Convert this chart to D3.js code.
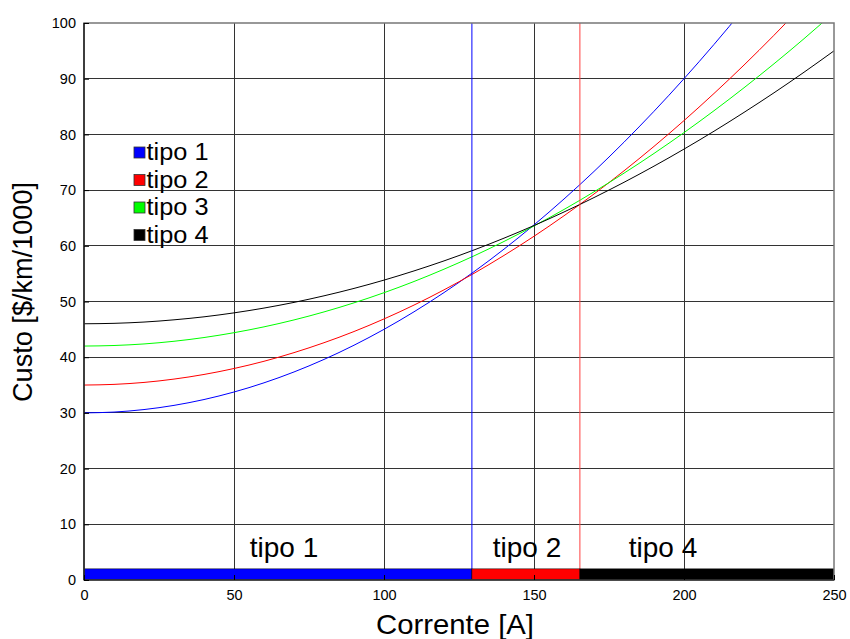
<!DOCTYPE html>
<html><head><meta charset="utf-8">
<script src="https://cdn.jsdelivr.net/npm/d3@7"></script>
<style>body{margin:0;background:#fff;font-family:"Liberation Sans",Arial,sans-serif}</style>
</head><body><svg id="c" width="850" height="639"></svg>
<script>
const xs = [0,10,20,30,40,50,60,70,80,90,100,110,120,130,140,150,160,170,180,190,200,210,220,230,240,250];
const tipo1 = [30,30.15,30.6,31.35,32.4,33.75,35.4,37.35,39.6,42.15,45,48.15,51.6,55.35,59.4,63.75,68.4,73.35,78.6,84.15,90,96.15,102.6,109.4,116.4,123.8];
const tipo2 = [35,35.12,35.47,36.07,36.9,37.97,39.27,40.82,42.6,44.61,46.87,49.36,52.09,55.06,58.27,61.71,65.39,69.3,73.46,77.85,82.48,87.35,92.45,97.8,103.4,109.2];
const tipo3 = [42,42.1,42.38,42.86,43.53,44.4,45.45,46.69,48.13,49.76,51.58,53.59,55.8,58.19,60.78,63.56,66.52,69.69,73.04,76.58,80.32,84.25,88.37,92.68,97.18,101.9];
const tipo4 = [46,46.08,46.31,46.71,47.25,47.96,48.82,49.84,51.02,52.35,53.84,55.49,57.29,59.25,61.37,63.64,66.07,68.66,71.4,74.3,77.36,80.57,83.95,87.47,91.16,95];
const seriesNames = ["tipo 1","tipo 2","tipo 3","tipo 4"];
const seriesColors = ["#0000ff","#ff0000","#00ff00","#000000"];
const limits = [129.3, 165.3];
const bands = [{label:"tipo 1",x0:0,x1:129.3,color:"#0000ff"},{label:"tipo 2",x0:129.3,x1:165.3,color:"#ff0000"},{label:"tipo 4",x0:165.3,x1:250,color:"#000000"}];
const bandHeight = 2;
const xTicks = [0,50,100,150,200,250];
const yTicks = [0,10,20,30,40,50,60,70,80,90,100];

const svg = d3.select("#c");
const L=84, R=834, T=23, B=580;
const x = d3.scaleLinear().domain([0,250]).range([L,R]);
const y = d3.scaleLinear().domain([0,100]).range([B,T]);

svg.append("defs").append("clipPath").attr("id","clip").append("rect")
  .attr("x",L).attr("y",T).attr("width",R-L).attr("height",B-T);

// grid
const g = svg.append("g");
g.selectAll(".gx").data(xTicks.slice(1,-1)).enter().append("line")
  .attr("x1",d=>x(d)).attr("x2",d=>x(d)).attr("y1",T).attr("y2",B)
  .attr("stroke","#333").attr("stroke-width",1).attr("shape-rendering","crispEdges");
g.selectAll(".gy").data(yTicks.slice(1,-1)).enter().append("line")
  .attr("x1",L).attr("x2",R).attr("y1",d=>y(d)).attr("y2",d=>y(d))
  .attr("stroke","#333").attr("stroke-width",1).attr("shape-rendering","crispEdges");

const plot = svg.append("g").attr("clip-path","url(#clip)");
const line = d3.line().x(d=>x(d[0])).y(d=>y(d[1])).curve(d3.curveMonotoneX);
[tipo1,tipo2,tipo3,tipo4].forEach((s,i)=>{
  plot.append("path").datum(xs.map((v,j)=>[v,s[j]])).attr("d",line)
    .attr("fill","none").attr("stroke",seriesColors[i]).attr("stroke-width",1);
});

// vertical limit lines
plot.append("line").attr("x1",x(limits[0])).attr("x2",x(limits[0])).attr("y1",T).attr("y2",B)
  .attr("stroke","#0000ff").attr("stroke-width",1);
plot.append("line").attr("x1",x(limits[1])).attr("x2",x(limits[1])).attr("y1",T).attr("y2",B)
  .attr("stroke","#ff4040").attr("stroke-width",1);

// bands
bands.forEach(b=>{
  plot.append("rect").attr("x",x(b.x0)).attr("y",y(bandHeight)).attr("width",x(b.x1)-x(b.x0))
    .attr("height",y(0)-y(bandHeight)).attr("fill",b.color).attr("stroke","#000").attr("stroke-width",0.5);
});
const bandLabelX = [284, 527, 663];
bands.forEach((b,i)=>{
  svg.append("text").attr("x",bandLabelX[i]).attr("y",557).attr("text-anchor","middle")
    .attr("font-size",28).text(b.label);
});

// box
svg.append("rect").attr("x",L).attr("y",T).attr("width",R-L).attr("height",B-T)
  .attr("fill","none").attr("stroke","#777").attr("stroke-width",1.5);
svg.append("line").attr("x1",L).attr("x2",L).attr("y1",T).attr("y2",B).attr("stroke","#000").attr("stroke-width",1.2);
svg.append("line").attr("x1",L).attr("x2",R).attr("y1",B).attr("y2",B).attr("stroke","#000").attr("stroke-width",1.2);

// axes
const xa = svg.append("g").attr("transform",`translate(0,${B})`)
  .call(d3.axisBottom(x).tickValues(xTicks).tickSize(-5).tickPadding(10));
const ya = svg.append("g").attr("transform",`translate(${L},0)`)
  .call(d3.axisLeft(y).tickValues(yTicks).tickSize(-5).tickPadding(8));
[xa,ya].forEach(a=>{
  a.select(".domain").remove();
  a.selectAll("text").attr("font-size",14.5).attr("font-family","Liberation Sans, Arial, sans-serif").attr("fill","#000");
  a.selectAll("line").attr("stroke","#000");
});

svg.append("text").attr("x",455).attr("y",634).attr("text-anchor","middle").attr("font-size",28)
  .attr("textLength",158).attr("lengthAdjust","spacingAndGlyphs").text("Corrente [A]");
svg.append("text").attr("transform","translate(32,292) rotate(-90)").attr("text-anchor","middle")
  .attr("font-size",28).attr("textLength",220).attr("lengthAdjust","spacingAndGlyphs").text("Custo [$/km/1000]");

// legend
const leg = svg.append("g");
seriesNames.forEach((n,i)=>{
  const cy = 152.5 + i*27.5;
  leg.append("rect").attr("x",134).attr("y",cy-5.5).attr("width",11).attr("height",11)
    .attr("fill",seriesColors[i]).attr("stroke","#333").attr("stroke-width",0.8);
  leg.append("text").attr("x",146.5).attr("y",cy+7.5).attr("font-size",23)
    .attr("textLength",62).attr("lengthAdjust","spacingAndGlyphs").text(n);
});
</script></body></html>
